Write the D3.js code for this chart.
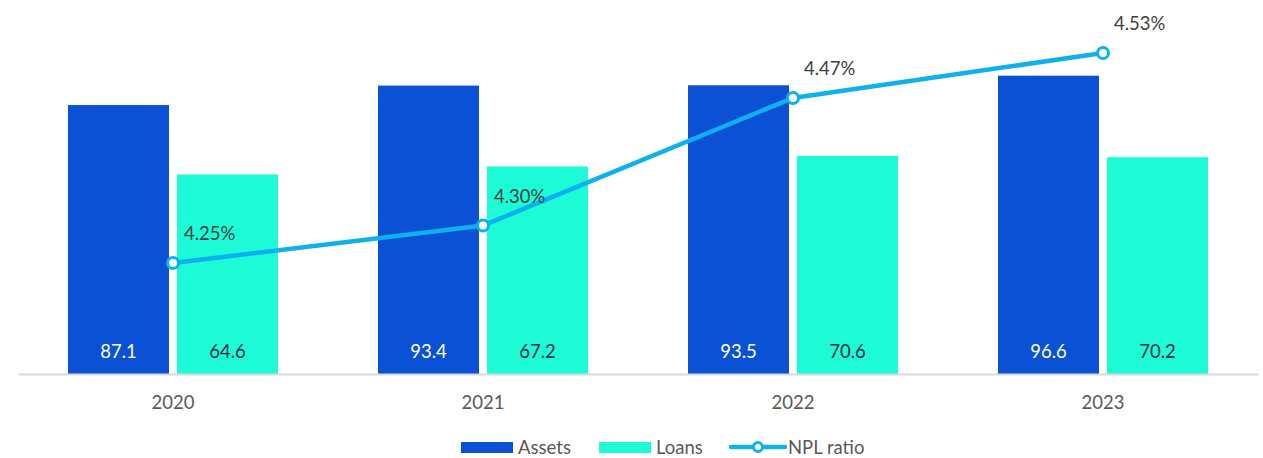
<!DOCTYPE html>
<html>
<head>
<meta charset="utf-8">
<script src="https://cdn.jsdelivr.net/npm/d3@7"></script>
<style>
  body { margin: 0; background: #fff; }
  text { font-family: Lato, "Open Sans", sans-serif; }
</style>
</head>
<body>
<div id="chart"></div>
<script>
// Daten
const years = ["2020", "2021", "2022", "2023"];
const assets = [87.1, 93.4, 93.5, 96.6];
const loans = [64.6, 67.2, 70.6, 70.2];
const npl = [4.25, 4.30, 4.47, 4.53];
const nplLabels = ["4.25%", "4.30%", "4.47%", "4.53%"];

const width = 1263;
const height = 458;
const colAssets = "#0b51d5";
const colLoans = "#1cfbd6";
const colLine = "#0fb0ee";
const fs = 18.5;

const svg = d3.select("#chart")
  .append("svg")
  .attr("width", width)
  .attr("height", height);

const baseY = 374;

// Skalen
const x0 = d3.scaleBand().domain(years).range([18, 1258]);
const x1 = d3.scaleBand().domain(["assets", "loans"]).range([0, 210]).paddingInner(0.0734);
const y = d3.scaleLinear().domain([0, 120]).range([baseY, baseY - 120 * 3.088]);
const y2 = d3.scaleLinear().domain([4.1, 4.6]).range([375.5, 0.5]);

const groupX = d => x0(d) + x0.bandwidth() / 2 - 105;

// Balken
const groups = svg.selectAll(".year-group")
  .data(years)
  .enter()
  .append("g")
  .attr("class", "year-group")
  .attr("transform", d => `translate(${groupX(d)},0)`);

groups.append("rect")
  .attr("x", x1("assets"))
  .attr("y", (d, i) => y(assets[i]))
  .attr("width", x1.bandwidth())
  .attr("height", (d, i) => baseY - y(assets[i]))
  .attr("fill", colAssets);

groups.append("rect")
  .attr("x", x1("loans"))
  .attr("y", (d, i) => y(loans[i]))
  .attr("width", x1.bandwidth())
  .attr("height", (d, i) => baseY - y(loans[i]))
  .attr("fill", colLoans);

groups.append("text")
  .attr("x", x1("assets") + x1.bandwidth() / 2)
  .attr("y", 358)
  .attr("text-anchor", "middle")
  .attr("font-size", fs)
  .attr("fill", "#ffffff")
  .text((d, i) => assets[i].toFixed(1));

groups.append("text")
  .attr("x", x1("loans") + x1.bandwidth() / 2)
  .attr("y", 358)
  .attr("text-anchor", "middle")
  .attr("font-size", fs)
  .attr("fill", "#1b2a4e")
  .text((d, i) => loans[i].toFixed(1));

// X-Achse
const xAxis = svg.append("g")
  .attr("transform", `translate(0,${baseY})`)
  .call(d3.axisBottom(x0).tickSize(0).tickPadding(22));
xAxis.select(".domain").attr("stroke", "#d9d9d9").attr("stroke-width", 2);
xAxis.selectAll("text")
  .attr("font-size", fs)
  .attr("fill", "#595959")
  .style("font-family", "Lato, 'Open Sans', sans-serif");

// NPL-Linie
const cx = d => x0(d) + x0.bandwidth() / 2;
const line = d3.line()
  .x((d, i) => cx(years[i]))
  .y(d => y2(d));

svg.append("path")
  .datum(npl)
  .attr("d", line)
  .attr("fill", "none")
  .attr("stroke", colLine)
  .attr("stroke-width", 4.5);

svg.selectAll(".npl-dot")
  .data(npl)
  .enter()
  .append("circle")
  .attr("class", "npl-dot")
  .attr("cx", (d, i) => cx(years[i]))
  .attr("cy", d => y2(d))
  .attr("r", 5.5)
  .attr("fill", "#fff")
  .attr("stroke", colLine)
  .attr("stroke-width", 3);

svg.selectAll(".npl-label")
  .data(npl)
  .enter()
  .append("text")
  .attr("class", "npl-label")
  .attr("x", (d, i) => cx(years[i]) + 11)
  .attr("y", d => y2(d) - 23)
  .attr("font-size", fs)
  .attr("fill", "#404040")
  .text((d, i) => nplLabels[i]);

// Legende
const legend = svg.append("g").attr("transform", "translate(0,447)");
legend.append("rect").attr("x", 461).attr("y", -5).attr("width", 52).attr("height", 11).attr("fill", colAssets);
legend.append("text").attr("x", 518).attr("y", 6.5).attr("font-size", fs).attr("fill", "#595959").text("Assets");
legend.append("rect").attr("x", 599).attr("y", -5).attr("width", 52).attr("height", 11).attr("fill", colLoans);
legend.append("text").attr("x", 656).attr("y", 6.5).attr("font-size", fs).attr("fill", "#595959").text("Loans");
legend.append("line").attr("x1", 731).attr("x2", 785).attr("y1", 0).attr("y2", 0)
  .attr("stroke", colLine).attr("stroke-width", 4.5).attr("stroke-linecap", "round");
legend.append("circle").attr("cx", 758).attr("cy", 0).attr("r", 4.5)
  .attr("fill", "#fff").attr("stroke", colLine).attr("stroke-width", 3);
legend.append("text").attr("x", 788).attr("y", 6.5).attr("font-size", fs).attr("fill", "#595959").text("NPL ratio");
</script>
</body>
</html>
